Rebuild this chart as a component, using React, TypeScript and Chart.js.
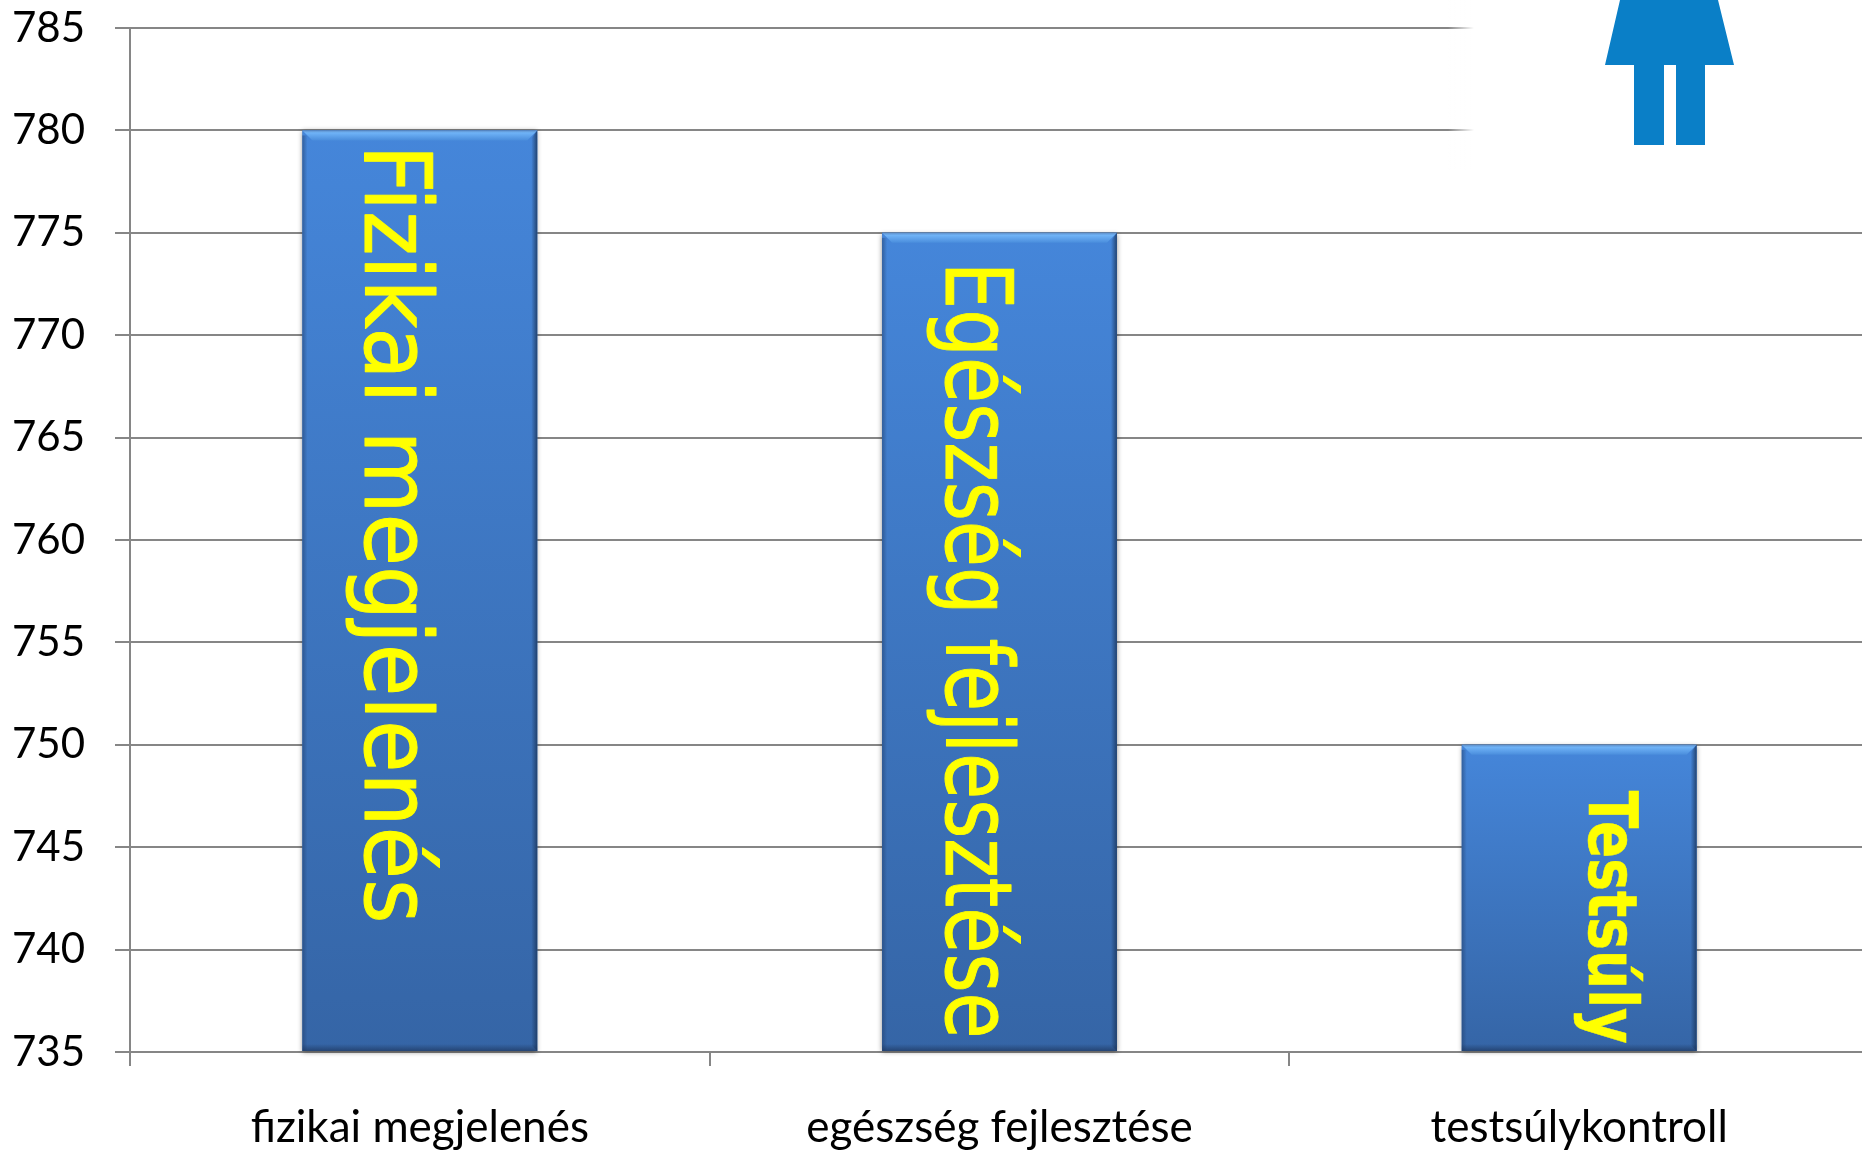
import React, { useEffect, useRef } from "react";
import { Chart, registerables } from "chart.js";

Chart.register(...registerables);

const categories = ["fizikai megjelenés", "egészség fejlesztése", "testsúlykontroll"];
const values = [780, 775, 750];
const barLabels = ["Fizikai megjelenés", "Egészség fejlesztése", "Testsúly"];
const yMin = 735;
const yMax = 785;
const yStep = 5;

const W = 1869;
const H = 1152;
const AXIS_FONT = "Lato, sans-serif";
const labelStyle = [
  { dx: -55, dy: 14, len: 779, size: 93, weight: "normal", stroke: 1 },
  { dx: -54, dy: 29, len: 777, size: 92, weight: "normal", stroke: 1 },
  { dx: 10, dy: 46, len: 253, size: 68, weight: "bold", stroke: 0.5 },
];

const barDecor = {
  id: "barDecor",
  beforeDatasetsDraw(chart: any) {
    const { ctx } = chart;
    const meta = chart.getDatasetMeta(0);
    meta.data.forEach((bar: any) => {
      const l = bar.x - bar.width / 2;
      const t = bar.y;
      ctx.save();
      ctx.shadowColor = "rgba(0,0,0,0.45)";
      ctx.shadowBlur = 5;
      ctx.shadowOffsetY = 1;
      ctx.fillStyle = "#3a6db0";
      ctx.fillRect(l, t, bar.width, bar.base - t);
      ctx.restore();
    });
  },
  afterDatasetsDraw(chart: any) {
    const { ctx } = chart;
    const meta = chart.getDatasetMeta(0);
    meta.data.forEach((bar: any, i: number) => {
      const l = bar.x - bar.width / 2;
      const r = bar.x + bar.width / 2;
      const t = bar.y;
      const b = bar.base;
      const bw = 10;
      ctx.save();
      // top bevel
      let g = ctx.createLinearGradient(0, t, 0, t + bw);
      g.addColorStop(0, "#5f8fc9");
      g.addColorStop(0.25, "#6fb3f7");
      g.addColorStop(1, "#4a8ddc");
      ctx.fillStyle = g;
      ctx.beginPath();
      ctx.moveTo(l, t);
      ctx.lineTo(r, t);
      ctx.lineTo(r - bw, t + bw);
      ctx.lineTo(l + bw, t + bw);
      ctx.closePath();
      ctx.fill();
      // right edge
      g = ctx.createLinearGradient(r - 6, 0, r, 0);
      g.addColorStop(0, "rgba(30,60,100,0)");
      g.addColorStop(1, "rgba(28,56,96,0.85)");
      ctx.fillStyle = g;
      ctx.beginPath();
      ctx.moveTo(r, t);
      ctx.lineTo(r, b);
      ctx.lineTo(r - 6, b - 6);
      ctx.lineTo(r - 6, t + 8);
      ctx.closePath();
      ctx.fill();
      // left edge
      g = ctx.createLinearGradient(l, 0, l + 5, 0);
      g.addColorStop(0, "rgba(35,65,110,0.55)");
      g.addColorStop(1, "rgba(35,65,110,0)");
      ctx.fillStyle = g;
      ctx.fillRect(l, t + 5, 5, b - t - 5);
      // bottom edge
      g = ctx.createLinearGradient(0, b - 7, 0, b);
      g.addColorStop(0, "rgba(30,55,95,0)");
      g.addColorStop(1, "rgba(30,55,95,0.7)");
      ctx.fillStyle = g;
      ctx.fillRect(l, b - 7, bar.width, 7);
      ctx.restore();

      // rotated label
      const s = labelStyle[i];
      ctx.save();
      ctx.translate(bar.x + s.dx, t + s.dy);
      ctx.rotate(Math.PI / 2);
      ctx.font = `${s.weight} ${s.size}px "DejaVu Sans"`;
      const w = ctx.measureText(barLabels[i]).width;
      ctx.scale(s.len / w, 1);
      ctx.fillStyle = "#ffff00";
      ctx.strokeStyle = "#ffff00";
      ctx.lineWidth = s.stroke;
      ctx.lineJoin = "round";
      ctx.textBaseline = "alphabetic";
      ctx.textAlign = "left";
      ctx.fillText(barLabels[i], 0, 0);
      ctx.strokeText(barLabels[i], 0, 0);
      ctx.restore();
    });

    // pasted figure in the top right corner, on its white patch
    ctx.save();
    const fade = ctx.createLinearGradient(1448, 0, 1474, 0);
    fade.addColorStop(0, "rgba(255,255,255,0)");
    fade.addColorStop(1, "rgba(255,255,255,1)");
    ctx.fillStyle = fade;
    ctx.fillRect(1448, 0, 26, 170);
    ctx.fillStyle = "#fff";
    ctx.fillRect(1474, 0, W - 1474, 170);
    ctx.fillStyle = "#0a7fc7";
    ctx.beginPath();
    ctx.moveTo(1620, 0);
    ctx.lineTo(1718, 0);
    ctx.lineTo(1734, 65);
    ctx.lineTo(1705, 65);
    ctx.lineTo(1705, 145);
    ctx.lineTo(1676, 145);
    ctx.lineTo(1676, 65);
    ctx.lineTo(1664, 65);
    ctx.lineTo(1664, 145);
    ctx.lineTo(1634, 145);
    ctx.lineTo(1634, 65);
    ctx.lineTo(1605, 65);
    ctx.closePath();
    ctx.fill();
    ctx.restore();
  },
};

export default function App() {
  const ref = useRef<HTMLCanvasElement>(null);
  useEffect(() => {
    const chart = new Chart(ref.current as HTMLCanvasElement, {
      type: "bar",
      data: {
        labels: categories,
        datasets: [
          {
            data: values,
            base: yMin,
            barPercentage: 0.405,
            categoryPercentage: 1,
            backgroundColor: (c: any) => {
              const ch = c.chart;
              if (!ch.chartArea || !ch.scales.y) return "#3f78c4";
              const top = ch.scales.y.getPixelForValue(values[c.dataIndex] ?? yMax);
              const bottom = ch.scales.y.getPixelForValue(yMin);
              const g = ch.ctx.createLinearGradient(0, top, 0, bottom);
              g.addColorStop(0, "#4586da");
              g.addColorStop(1, "#3565a6");
              return g;
            },
          },
        ],
      },
      options: {
        animation: false,
        responsive: false,
        layout: { padding: { top: 28, right: 0, bottom: 0, left: 0 } },
        plugins: { legend: { display: false }, tooltip: { enabled: false } },
        scales: {
          x: {
            afterFit: (s: any) => {
              s.height = 100;
            },
            grid: { drawOnChartArea: false, drawTicks: true, tickLength: 14, color: "#868686", lineWidth: 2 },
            border: { color: "#868686", width: 2 },
            ticks: {
              color: "#000",
              font: { family: AXIS_FONT, size: 44 },
              padding: 35,
              maxRotation: 0,
              autoSkip: false,
            },
          },
          y: {
            min: yMin,
            max: yMax,
            afterFit: (s: any) => {
              s.width = 130;
              s.paddingTop = 0;
              s.paddingBottom = 0;
            },
            grid: { color: "#868686", lineWidth: 2, tickLength: 15 },
            border: { color: "#868686", width: 2 },
            ticks: {
              stepSize: yStep,
              color: "#000",
              font: { family: AXIS_FONT, size: 42 },
              padding: 30,
            },
          },
        },
      },
      plugins: [barDecor],
    } as any);
    return () => chart.destroy();
  }, []);
  return (
    <div style={{ position: "fixed", left: 0, top: 0, width: 1862, height: 1152, overflow: "hidden", background: "#fff" }}>
      <canvas ref={ref} width={W} height={H} style={{ display: "block" }} />
    </div>
  );
}
